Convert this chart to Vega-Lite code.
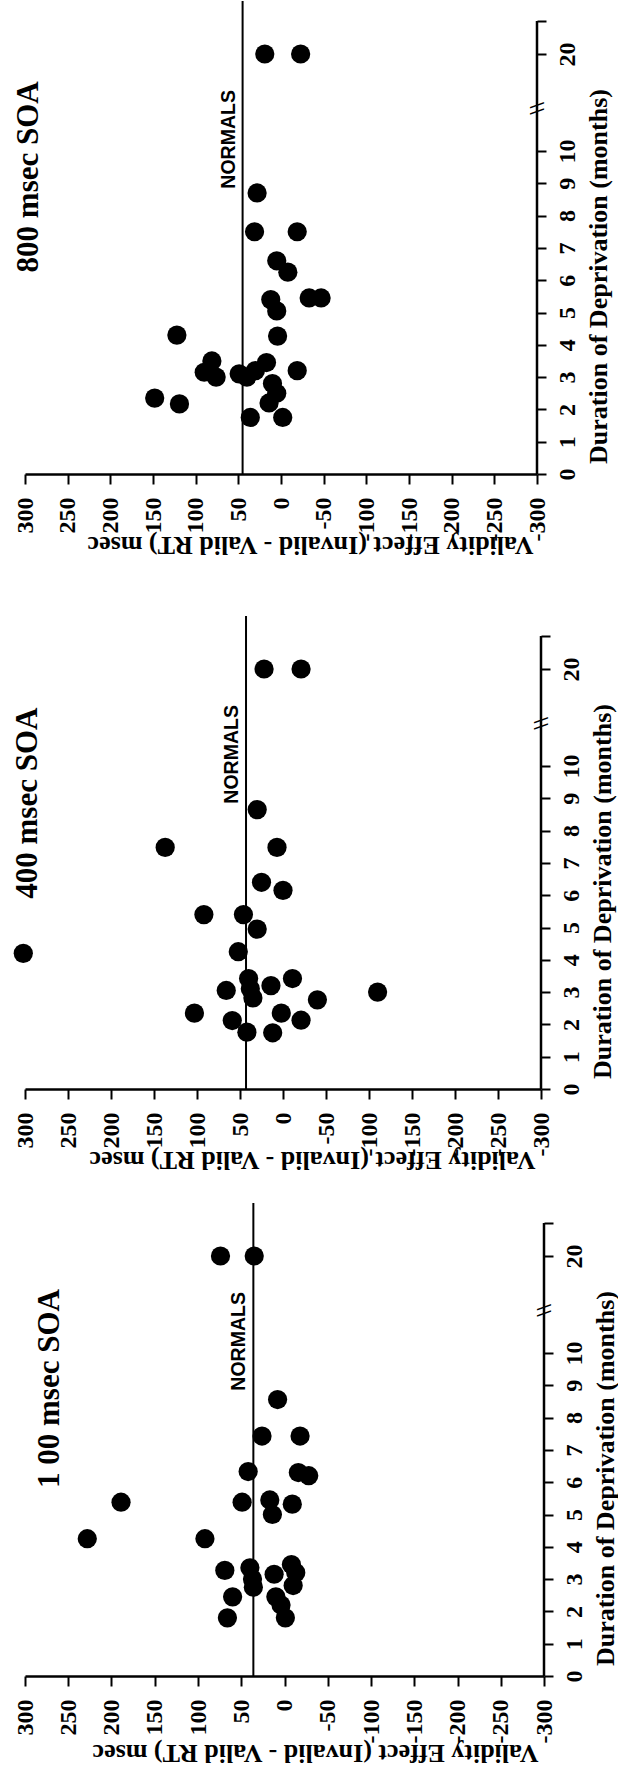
{
  "$schema": "https://vega.github.io/schema/vega-lite/v6.json",
  "padding": {"left": 12, "top": 0, "right": 0, "bottom": 4},
  "background": "white",
  "bounds": "flush",
  "spacing": 142,
  "config": {
    "view": {"stroke": null},
    "axis": {
      "grid": false, "domainColor": "black", "tickColor": "black", "labelColor": "black", "titleColor": "black",
      "labelFont": "Liberation Serif", "labelFontWeight": "bold", "labelFontSize": 24,
      "titleFont": "Liberation Serif", "titleFontWeight": "bold", "titleFontSize": 26,
      "domainWidth": 2.5, "tickWidth": 2, "labelOverlap": false, "labelFlush": false, "labelBound": false
    },
    "axisY": {"labelAngle": 270, "labelAlign": "center", "labelBaseline": "top", "tickSize": 9, "labelPadding": 9, "domain": false, "titleAngle": 270, "titleX": 61, "titleAlign": "center", "titleBaseline": "middle"},
    "axisX": {"labelExpr": "'' + datum.value", "labelAngle": 270, "labelAlign": "right", "labelBaseline": "middle", "tickSize": 10, "labelPadding": 13, "titleAngle": 180, "titleAlign": "center", "titleBaseline": "middle"}
  },
  "datasets": {
    "info": [
      {"soa": 800, "title": "800 msec SOA", "normal": 45, "label": "NORMALS"},
      {"soa": 400, "title": "400 msec SOA", "normal": 43, "label": "NORMALS"},
      {"soa": 100, "title": "1 00 msec SOA", "normal": 36, "label": "NORMALS"}
    ],
    "soa800": [
      {"months": 20, "effect": 19}, {"months": 20, "effect": -23}, {"months": 8.7, "effect": 28},
      {"months": 7.5, "effect": 31}, {"months": 7.5, "effect": -19}, {"months": 6.6, "effect": 5},
      {"months": 6.25, "effect": -8}, {"months": 5.4, "effect": 12}, {"months": 5.45, "effect": -33},
      {"months": 5.45, "effect": -47}, {"months": 5.05, "effect": 5}, {"months": 4.27, "effect": 4},
      {"months": 4.3, "effect": 122}, {"months": 3.45, "effect": 17}, {"months": 3.2, "effect": -19},
      {"months": 3.5, "effect": 81}, {"months": 3.15, "effect": 90}, {"months": 3.0, "effect": 76},
      {"months": 3.1, "effect": 49}, {"months": 3.2, "effect": 30}, {"months": 3.0, "effect": 40},
      {"months": 2.8, "effect": 10}, {"months": 2.5, "effect": 5}, {"months": 2.2, "effect": 14},
      {"months": 1.75, "effect": -2}, {"months": 1.75, "effect": 36}, {"months": 2.35, "effect": 148},
      {"months": 2.17, "effect": 119}
    ],
    "soa400": [
      {"months": 20, "effect": 22}, {"months": 20, "effect": -21}, {"months": 8.65, "effect": 30},
      {"months": 7.48, "effect": 137}, {"months": 7.48, "effect": 7}, {"months": 6.4, "effect": 25},
      {"months": 6.15, "effect": 0}, {"months": 5.4, "effect": 92}, {"months": 5.4, "effect": 46},
      {"months": 4.95, "effect": 30}, {"months": 4.25, "effect": 52}, {"months": 4.2, "effect": 302},
      {"months": 3.42, "effect": 40}, {"months": 3.1, "effect": 38}, {"months": 2.82, "effect": 35},
      {"months": 3.2, "effect": 14}, {"months": 3.42, "effect": -11}, {"months": 3.05, "effect": 66},
      {"months": 2.76, "effect": -40}, {"months": 2.35, "effect": 103}, {"months": 2.12, "effect": 59},
      {"months": 2.35, "effect": 2}, {"months": 2.13, "effect": -21}, {"months": 1.76, "effect": 42},
      {"months": 1.74, "effect": 12}, {"months": 3.0, "effect": -110}
    ],
    "soa100": [
      {"months": 20, "effect": 74}, {"months": 20, "effect": 35}, {"months": 8.56, "effect": 8},
      {"months": 7.43, "effect": 26}, {"months": 7.43, "effect": -18}, {"months": 6.33, "effect": 42},
      {"months": 6.3, "effect": -16}, {"months": 6.2, "effect": -28}, {"months": 5.38, "effect": 189},
      {"months": 5.38, "effect": 49}, {"months": 5.45, "effect": 17}, {"months": 5.32, "effect": -9},
      {"months": 5.0, "effect": 14}, {"months": 4.25, "effect": 228}, {"months": 4.25, "effect": 92},
      {"months": 3.27, "effect": 69}, {"months": 2.45, "effect": 60}, {"months": 1.8, "effect": 66},
      {"months": 3.35, "effect": 40}, {"months": 3.0, "effect": 37}, {"months": 2.75, "effect": 36},
      {"months": 3.15, "effect": 12}, {"months": 2.45, "effect": 10}, {"months": 2.2, "effect": 4},
      {"months": 1.8, "effect": -1}, {"months": 3.45, "effect": -8}, {"months": 3.2, "effect": -13},
      {"months": 2.8, "effect": -10}
    ]
  },
  "vconcat": [
    {
      "width": 512, "height": 473,
      "layer": [
        {"data": {"name": "soa800"}, "mark": {"type": "circle", "size": 370, "opacity": 1, "color": "black"},
         "encoding": {
           "x": {"field": "effect", "type": "quantitative",
                 "scale": {"domain": [-300, 300], "reverse": true, "nice": false, "zero": false},
                 "axis": {"orient": "bottom", "values": [-300, -250, -200, -150, -100, -50, 0, 50, 100, 150, 200, 250, 300], "labelOverlap": false, "title": "Validity Effect (Invalid - Valid RT) msec", "titleX": 285, "titleY": 70}},
           "y": {"field": "months", "type": "quantitative",
                 "scale": {"domain": [0, 10, 20, 21.6], "range": [473, 150, 53, 0], "nice": false, "zero": false},
                 "axis": {"orient": "right", "values": [0, 1, 2, 3, 4, 5, 6, 7, 8, 9, 10, 20, 21], "labelExpr": "datum.value == 21 ? '' : '' + datum.value", "labelOverlap": false, "title": "Duration of Deprivation (months)", "titleY": 275}}
         }},
        {"data": {"name": "info"}, "transform": [{"filter": "datum.soa == 800"}],
         "mark": {"type": "rule", "strokeWidth": 2, "color": "black"},
         "encoding": {"x": {"field": "normal", "type": "quantitative", "axis": {"orient": "bottom", "values": [-300, -250, -200, -150, -100, -50, 0, 50, 100, 150, 200, 250, 300], "labelOverlap": false, "title": "Validity Effect (Invalid - Valid RT) msec", "titleX": 285, "titleY": 70}},
                      "y": {"datum": 0, "type": "quantitative", "axis": {"orient": "right", "values": [0, 1, 2, 3, 4, 5, 6, 7, 8, 9, 10, 20, 21], "labelExpr": "datum.value == 21 ? '' : '' + datum.value", "labelOverlap": false, "title": "Duration of Deprivation (months)", "titleY": 275}}, "y2": {"datum": 21.6}}},
        {"data": {"name": "info"}, "transform": [{"filter": "datum.soa == 800"}],
         "mark": {"type": "rule", "strokeWidth": 2.5, "color": "black"},
         "encoding": {"x": {"datum": -300, "type": "quantitative", "axis": {"orient": "bottom", "values": [-300, -250, -200, -150, -100, -50, 0, 50, 100, 150, 200, 250, 300], "labelOverlap": false, "title": "Validity Effect (Invalid - Valid RT) msec", "titleX": 285, "titleY": 70}},
                      "y": {"datum": 0, "type": "quantitative", "axis": {"orient": "right", "values": [0, 1, 2, 3, 4, 5, 6, 7, 8, 9, 10, 20, 21], "labelExpr": "datum.value == 21 ? '' : '' + datum.value", "labelOverlap": false, "title": "Duration of Deprivation (months)", "titleY": 275}}, "y2": {"datum": 21}}},
        {"data": {"name": "info"}, "transform": [{"filter": "datum.soa == 800"}],
         "mark": {"type": "text", "angle": 270, "align": "center", "baseline": "middle", "font": "Liberation Serif", "fontWeight": "bold", "fontSize": 22, "color": "black"},
         "encoding": {"x": {"datum": -300, "type": "quantitative", "axis": {"orient": "bottom", "values": [-300, -250, -200, -150, -100, -50, 0, 50, 100, 150, 200, 250, 300], "labelOverlap": false, "title": "Validity Effect (Invalid - Valid RT) msec", "titleX": 285, "titleY": 70}},
                      "y": {"datum": 14.4, "type": "quantitative", "axis": {"orient": "right", "values": [0, 1, 2, 3, 4, 5, 6, 7, 8, 9, 10, 20, 21], "labelExpr": "datum.value == 21 ? '' : '' + datum.value", "labelOverlap": false, "title": "Duration of Deprivation (months)", "titleY": 275}}, "text": {"value": "\\\\"}}},
        {"data": {"name": "info"}, "transform": [{"filter": "datum.soa == 800"}],
         "mark": {"type": "text", "angle": 270, "align": "center", "baseline": "alphabetic", "dy": -8, "font": "Liberation Sans", "fontWeight": "bold", "fontSize": 19.5, "color": "black"},
         "encoding": {"x": {"field": "normal", "type": "quantitative", "axis": {"orient": "bottom", "values": [-300, -250, -200, -150, -100, -50, 0, 50, 100, 150, 200, 250, 300], "labelOverlap": false, "title": "Validity Effect (Invalid - Valid RT) msec", "titleX": 285, "titleY": 70}},
                      "y": {"datum": 11.2, "type": "quantitative", "axis": {"orient": "right", "values": [0, 1, 2, 3, 4, 5, 6, 7, 8, 9, 10, 20, 21], "labelExpr": "datum.value == 21 ? '' : '' + datum.value", "labelOverlap": false, "title": "Duration of Deprivation (months)", "titleY": 275}}, "text": {"field": "label"}}},
        {"data": {"name": "info"}, "transform": [{"filter": "datum.soa == 800"}],
         "mark": {"type": "text", "angle": 270, "align": "center", "baseline": "middle", "font": "Liberation Serif", "fontWeight": "bold", "fontSize": 31, "color": "black"},
         "encoding": {"x": {"datum": 295, "type": "quantitative", "axis": {"orient": "bottom", "values": [-300, -250, -200, -150, -100, -50, 0, 50, 100, 150, 200, 250, 300], "labelOverlap": false, "title": "Validity Effect (Invalid - Valid RT) msec", "titleX": 285, "titleY": 70}},
                      "y": {"datum": 9.2, "type": "quantitative", "axis": {"orient": "right", "values": [0, 1, 2, 3, 4, 5, 6, 7, 8, 9, 10, 20, 21], "labelExpr": "datum.value == 21 ? '' : '' + datum.value", "labelOverlap": false, "title": "Duration of Deprivation (months)", "titleY": 275}}, "text": {"field": "title"}}}
      ]
    },
    {
      "width": 516, "height": 473,
      "layer": [
        {"data": {"name": "soa400"}, "mark": {"type": "circle", "size": 370, "opacity": 1, "color": "black"},
         "encoding": {
           "x": {"field": "effect", "type": "quantitative",
                 "scale": {"domain": [-300, 300], "reverse": true, "nice": false, "zero": false},
                 "axis": {"orient": "bottom", "values": [-300, -250, -200, -150, -100, -50, 0, 50, 100, 150, 200, 250, 300], "labelOverlap": false, "title": "Validity Effect (Invalid - Valid RT) msec", "titleX": 287, "titleY": 70}},
           "y": {"field": "months", "type": "quantitative",
                 "scale": {"domain": [0, 10, 20, 21.6], "range": [473, 150, 53, 0], "nice": false, "zero": false},
                 "axis": {"orient": "right", "values": [0, 1, 2, 3, 4, 5, 6, 7, 8, 9, 10, 20, 21], "labelExpr": "datum.value == 21 ? '' : '' + datum.value", "labelOverlap": false, "title": "Duration of Deprivation (months)", "titleY": 275}}
         }},
        {"data": {"name": "info"}, "transform": [{"filter": "datum.soa == 400"}],
         "mark": {"type": "rule", "strokeWidth": 2, "color": "black"},
         "encoding": {"x": {"field": "normal", "type": "quantitative", "axis": {"orient": "bottom", "values": [-300, -250, -200, -150, -100, -50, 0, 50, 100, 150, 200, 250, 300], "labelOverlap": false, "title": "Validity Effect (Invalid - Valid RT) msec", "titleX": 287, "titleY": 70}},
                      "y": {"datum": 0, "type": "quantitative", "axis": {"orient": "right", "values": [0, 1, 2, 3, 4, 5, 6, 7, 8, 9, 10, 20, 21], "labelExpr": "datum.value == 21 ? '' : '' + datum.value", "labelOverlap": false, "title": "Duration of Deprivation (months)", "titleY": 275}}, "y2": {"datum": 21.6}}},
        {"data": {"name": "info"}, "transform": [{"filter": "datum.soa == 400"}],
         "mark": {"type": "rule", "strokeWidth": 2.5, "color": "black"},
         "encoding": {"x": {"datum": -300, "type": "quantitative", "axis": {"orient": "bottom", "values": [-300, -250, -200, -150, -100, -50, 0, 50, 100, 150, 200, 250, 300], "labelOverlap": false, "title": "Validity Effect (Invalid - Valid RT) msec", "titleX": 287, "titleY": 70}},
                      "y": {"datum": 0, "type": "quantitative", "axis": {"orient": "right", "values": [0, 1, 2, 3, 4, 5, 6, 7, 8, 9, 10, 20, 21], "labelExpr": "datum.value == 21 ? '' : '' + datum.value", "labelOverlap": false, "title": "Duration of Deprivation (months)", "titleY": 275}}, "y2": {"datum": 21}}},
        {"data": {"name": "info"}, "transform": [{"filter": "datum.soa == 400"}],
         "mark": {"type": "text", "angle": 270, "align": "center", "baseline": "middle", "font": "Liberation Serif", "fontWeight": "bold", "fontSize": 22, "color": "black"},
         "encoding": {"x": {"datum": -300, "type": "quantitative", "axis": {"orient": "bottom", "values": [-300, -250, -200, -150, -100, -50, 0, 50, 100, 150, 200, 250, 300], "labelOverlap": false, "title": "Validity Effect (Invalid - Valid RT) msec", "titleX": 287, "titleY": 70}},
                      "y": {"datum": 14.4, "type": "quantitative", "axis": {"orient": "right", "values": [0, 1, 2, 3, 4, 5, 6, 7, 8, 9, 10, 20, 21], "labelExpr": "datum.value == 21 ? '' : '' + datum.value", "labelOverlap": false, "title": "Duration of Deprivation (months)", "titleY": 275}}, "text": {"value": "\\\\"}}},
        {"data": {"name": "info"}, "transform": [{"filter": "datum.soa == 400"}],
         "mark": {"type": "text", "angle": 270, "align": "center", "baseline": "alphabetic", "dy": -8, "font": "Liberation Sans", "fontWeight": "bold", "fontSize": 19.5, "color": "black"},
         "encoding": {"x": {"field": "normal", "type": "quantitative", "axis": {"orient": "bottom", "values": [-300, -250, -200, -150, -100, -50, 0, 50, 100, 150, 200, 250, 300], "labelOverlap": false, "title": "Validity Effect (Invalid - Valid RT) msec", "titleX": 287, "titleY": 70}},
                      "y": {"datum": 11.2, "type": "quantitative", "axis": {"orient": "right", "values": [0, 1, 2, 3, 4, 5, 6, 7, 8, 9, 10, 20, 21], "labelExpr": "datum.value == 21 ? '' : '' + datum.value", "labelOverlap": false, "title": "Duration of Deprivation (months)", "titleY": 275}}, "text": {"field": "label"}}},
        {"data": {"name": "info"}, "transform": [{"filter": "datum.soa == 400"}],
         "mark": {"type": "text", "angle": 270, "align": "center", "baseline": "middle", "font": "Liberation Serif", "fontWeight": "bold", "fontSize": 31, "color": "black"},
         "encoding": {"x": {"datum": 296, "type": "quantitative", "axis": {"orient": "bottom", "values": [-300, -250, -200, -150, -100, -50, 0, 50, 100, 150, 200, 250, 300], "labelOverlap": false, "title": "Validity Effect (Invalid - Valid RT) msec", "titleX": 287, "titleY": 70}},
                      "y": {"datum": 8.85, "type": "quantitative", "axis": {"orient": "right", "values": [0, 1, 2, 3, 4, 5, 6, 7, 8, 9, 10, 20, 21], "labelExpr": "datum.value == 21 ? '' : '' + datum.value", "labelOverlap": false, "title": "Duration of Deprivation (months)", "titleY": 275}}, "text": {"field": "title"}}}
      ]
    },
    {
      "width": 519, "height": 445,
      "layer": [
        {"data": {"name": "soa100"}, "mark": {"type": "circle", "size": 370, "opacity": 1, "color": "black"},
         "encoding": {
           "x": {"field": "effect", "type": "quantitative",
                 "scale": {"domain": [-300, 300], "reverse": true, "nice": false, "zero": false},
                 "axis": {"orient": "bottom", "values": [-300, -250, -200, -150, -100, -50, 0, 50, 100, 150, 200, 250, 300], "labelOverlap": false, "title": "Validity Effect (Invalid - Valid RT) msec", "titleX": 290, "titleY": 76}},
           "y": {"field": "months", "type": "quantitative",
                 "scale": {"domain": [0, 10, 20, 21.6], "range": [445, 122, 25, -28], "nice": false, "zero": false},
                 "axis": {"orient": "right", "values": [0, 1, 2, 3, 4, 5, 6, 7, 8, 9, 10, 20, 21], "labelExpr": "datum.value == 21 ? '' : '' + datum.value", "labelOverlap": false, "title": "Duration of Deprivation (months)", "titleY": 247}}
         }},
        {"data": {"name": "info"}, "transform": [{"filter": "datum.soa == 100"}],
         "mark": {"type": "rule", "strokeWidth": 2, "color": "black"},
         "encoding": {"x": {"field": "normal", "type": "quantitative", "axis": {"orient": "bottom", "values": [-300, -250, -200, -150, -100, -50, 0, 50, 100, 150, 200, 250, 300], "labelOverlap": false, "title": "Validity Effect (Invalid - Valid RT) msec", "titleX": 290, "titleY": 76}},
                      "y": {"datum": 0, "type": "quantitative", "axis": {"orient": "right", "values": [0, 1, 2, 3, 4, 5, 6, 7, 8, 9, 10, 20, 21], "labelExpr": "datum.value == 21 ? '' : '' + datum.value", "labelOverlap": false, "title": "Duration of Deprivation (months)", "titleY": 247}}, "y2": {"datum": 21.6}}},
        {"data": {"name": "info"}, "transform": [{"filter": "datum.soa == 100"}],
         "mark": {"type": "rule", "strokeWidth": 2.5, "color": "black"},
         "encoding": {"x": {"datum": -300, "type": "quantitative", "axis": {"orient": "bottom", "values": [-300, -250, -200, -150, -100, -50, 0, 50, 100, 150, 200, 250, 300], "labelOverlap": false, "title": "Validity Effect (Invalid - Valid RT) msec", "titleX": 290, "titleY": 76}},
                      "y": {"datum": 0, "type": "quantitative", "axis": {"orient": "right", "values": [0, 1, 2, 3, 4, 5, 6, 7, 8, 9, 10, 20, 21], "labelExpr": "datum.value == 21 ? '' : '' + datum.value", "labelOverlap": false, "title": "Duration of Deprivation (months)", "titleY": 247}}, "y2": {"datum": 21}}},
        {"data": {"name": "info"}, "transform": [{"filter": "datum.soa == 100"}],
         "mark": {"type": "text", "angle": 270, "align": "center", "baseline": "middle", "font": "Liberation Serif", "fontWeight": "bold", "fontSize": 22, "color": "black"},
         "encoding": {"x": {"datum": -300, "type": "quantitative", "axis": {"orient": "bottom", "values": [-300, -250, -200, -150, -100, -50, 0, 50, 100, 150, 200, 250, 300], "labelOverlap": false, "title": "Validity Effect (Invalid - Valid RT) msec", "titleX": 290, "titleY": 76}},
                      "y": {"datum": 14.4, "type": "quantitative", "axis": {"orient": "right", "values": [0, 1, 2, 3, 4, 5, 6, 7, 8, 9, 10, 20, 21], "labelExpr": "datum.value == 21 ? '' : '' + datum.value", "labelOverlap": false, "title": "Duration of Deprivation (months)", "titleY": 247}}, "text": {"value": "\\\\"}}},
        {"data": {"name": "info"}, "transform": [{"filter": "datum.soa == 100"}],
         "mark": {"type": "text", "angle": 270, "align": "center", "baseline": "alphabetic", "dy": -8, "font": "Liberation Sans", "fontWeight": "bold", "fontSize": 19.5, "color": "black"},
         "encoding": {"x": {"field": "normal", "type": "quantitative", "axis": {"orient": "bottom", "values": [-300, -250, -200, -150, -100, -50, 0, 50, 100, 150, 200, 250, 300], "labelOverlap": false, "title": "Validity Effect (Invalid - Valid RT) msec", "titleX": 290, "titleY": 76}},
                      "y": {"datum": 11.2, "type": "quantitative", "axis": {"orient": "right", "values": [0, 1, 2, 3, 4, 5, 6, 7, 8, 9, 10, 20, 21], "labelExpr": "datum.value == 21 ? '' : '' + datum.value", "labelOverlap": false, "title": "Duration of Deprivation (months)", "titleY": 247}}, "text": {"field": "label"}}},
        {"data": {"name": "info"}, "transform": [{"filter": "datum.soa == 100"}],
         "mark": {"type": "text", "angle": 270, "align": "center", "baseline": "middle", "font": "Liberation Serif", "fontWeight": "bold", "fontSize": 31, "color": "black"},
         "encoding": {"x": {"datum": 271, "type": "quantitative", "axis": {"orient": "bottom", "values": [-300, -250, -200, -150, -100, -50, 0, 50, 100, 150, 200, 250, 300], "labelOverlap": false, "title": "Validity Effect (Invalid - Valid RT) msec", "titleX": 290, "titleY": 76}},
                      "y": {"datum": 8.9, "type": "quantitative", "axis": {"orient": "right", "values": [0, 1, 2, 3, 4, 5, 6, 7, 8, 9, 10, 20, 21], "labelExpr": "datum.value == 21 ? '' : '' + datum.value", "labelOverlap": false, "title": "Duration of Deprivation (months)", "titleY": 247}}, "text": {"field": "title"}}}
      ]
    }
  ]
}
